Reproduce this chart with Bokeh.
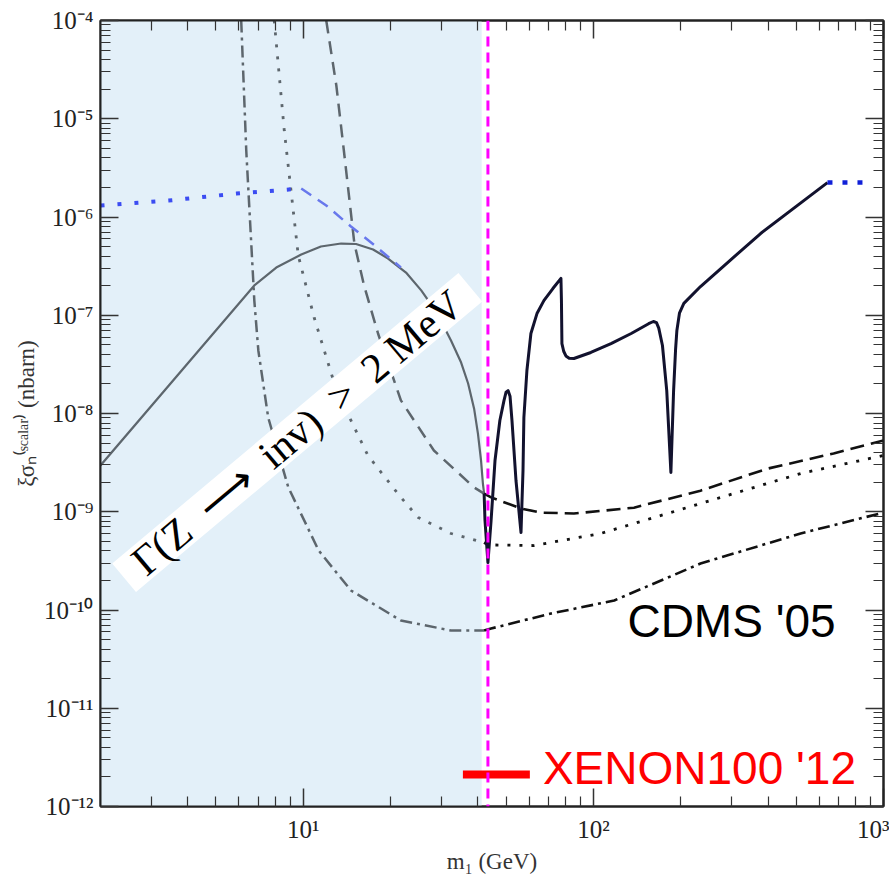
from bokeh.plotting import figure
from bokeh.models import LogAxis, FixedTicker, CustomJSTickFormatter, Span, Label
from bokeh.embed import file_html
from bokeh.resources import INLINE
from bokeh.core.properties import value

# ---------------- data ----------------
x_range_lim = (2, 1000)
y_range_lim = (1e-12, 1e-4)

x_major = [10, 100, 1000]
x_minor = [3, 4, 5, 6, 7, 8, 9, 20, 30, 40, 50, 60, 70, 80, 90,
           200, 300, 400, 500, 600, 700, 800, 900]
x_tick_labels = ["10¹", "10²", "10³"]

y_major = [1e-12, 1e-11, 1e-10, 1e-9, 1e-8, 1e-7, 1e-6, 1e-5, 1e-4]
y_minor = [m * d for d in [1e-12, 1e-11, 1e-10, 1e-9, 1e-8, 1e-7, 1e-6, 1e-5]
           for m in range(2, 10)]
y_tick_labels = ["10⁻¹²", "10⁻¹¹", "10⁻¹⁰", "10⁻⁹", "10⁻⁸", "10⁻⁷", "10⁻⁶", "10⁻⁵", "10⁻⁴"]

# Z-width excluded region and m_Z/2 line
shade_left, shade_right = 2, 41.2
mz_half = 43.3

# grey solid (model curve below m_Z/2)
solid_grey_x = [2.0, 6.78, 8.07, 9.84, 11.5, 13.5, 15.2, 17.4, 19.6, 22.6, 25.5,
                28.7, 32.3, 35.0, 37.0, 38.8, 40.0, 41.0, 41.6, 42.0]
solid_grey_y = [2.96e-9, 2.01e-7, 3.06e-7, 4.15e-7, 5.01e-7, 5.37e-7, 5.31e-7,
                4.67e-7, 3.78e-7, 2.72e-7, 1.79e-7, 1.09e-7, 5.53e-8, 3.30e-8,
                2.02e-8, 1.12e-8, 6.25e-9, 3.32e-9, 1.94e-9, 1.53e-9]

# black solid (model curve above m_Z/2)
solid_black_x = [42.0, 42.3, 43.3, 44.4, 45.8, 47.6, 49.2, 50.0, 50.8, 51.6, 52.4,
                 54.1, 56.3, 57.2, 57.6, 59.0, 60.9, 63.9, 67.5, 72.5, 77.3, 77.6,
                 77.9, 79.0, 80.4, 82.5, 85.7, 98.0, 115, 135, 155, 161, 165, 168,
                 173, 179, 185, 189, 192, 194, 198, 205, 234, 275, 377, 641]
solid_black_y = [1.53e-9, 8.15e-10, 3.04e-10, 8.15e-10, 3.32e-9, 8.49e-9, 1.36e-8,
                 1.65e-8, 1.71e-8, 1.5e-8, 8.49e-9, 2.08e-9, 6.15e-10, 2.63e-9,
                 9.1e-9, 2.74e-8, 6.52e-8, 1.04e-7, 1.41e-7, 1.87e-7, 2.37e-7,
                 1.41e-7, 5.15e-8, 4.3e-8, 3.85e-8, 3.65e-8, 3.63e-8, 4.18e-8,
                 5.15e-8, 6.52e-8, 8.2e-8, 8.64e-8, 8.4e-8, 7.4e-8, 4.92e-8,
                 1.71e-8, 2.51e-9, 1.71e-8, 4.5e-8, 7.0e-8, 1.05e-7, 1.32e-7,
                 1.96e-7, 2.99e-7, 6.79e-7, 2.24e-6]

# blue continuation curves
blue_dot_left_x = [2.0, 3.43, 5.88, 9.84]
blue_dot_left_y = [1.31e-6, 1.47e-6, 1.73e-6, 1.95e-6]
blue_dash_x = [9.84, 12.0, 14.6, 17.8, 21.7]
blue_dash_y = [1.95e-6, 1.31e-6, 8.0e-7, 5.01e-7, 3.06e-7]
blue_dot_right_x = [641, 881]
blue_dot_right_y = [2.24e-6, 2.24e-6]

# CDMS '05 bounds (three curves), grey part below m_Z/2 and black part above
dashed_grey_x = [12.0, 13.0, 13.8, 15.0, 16.2, 18.1, 21.7, 28.2, 38.8, 42.0]
dashed_grey_y = [1e-4, 2.18e-5, 4.75e-6, 5.37e-7, 2.01e-7, 6.52e-8, 1.36e-8,
                 4.2e-9, 1.77e-9, 1.53e-9]
dashed_black_x = [42.0, 44.4, 56.3, 65.9, 85.7, 138, 234, 399, 673, 1000]
dashed_black_y = [1.53e-9, 1.40e-9, 1.08e-9, 9.8e-10, 9.6e-10, 1.10e-9, 1.64e-9,
                  2.75e-9, 3.92e-9, 5.31e-9]

dotted_grey_x = [7.94, 8.60, 9.61, 10.9, 12.8, 14.6, 16.7, 21.7, 24.9, 32.3, 42.0]
dotted_grey_y = [1e-4, 7.59e-6, 4.06e-7, 9.48e-8, 2.02e-8, 8.49e-9, 3.74e-9,
                 1.40e-9, 8.74e-10, 6.01e-10, 4.86e-10]
dotted_black_x = [42.0, 43.3, 62.4, 106, 180, 304, 518, 1000]
dotted_black_y = [4.86e-10, 4.6e-10, 4.53e-10, 6.01e-10, 9.6e-10, 1.53e-9,
                  2.45e-9, 3.74e-9]

dashdot_grey_x = [6.11, 6.36, 6.78, 7.00, 7.57, 8.88, 11.3, 14.6, 21.7, 32.3, 42.0]
dashdot_grey_y = [1e-4, 4.75e-6, 1.41e-7, 4.38e-8, 9.1e-9, 1.77e-9, 4.03e-10,
                  1.58e-10, 7.82e-11, 6.18e-11, 6.18e-11]
dashdot_black_x = [42.0, 44.4, 71.4, 118, 234, 518, 1000]
dashdot_black_y = [6.18e-11, 6.48e-11, 9.2e-11, 1.25e-10, 2.97e-10, 6.01e-10, 9.8e-10]

# XENON100 '12 bound marker
xenon_x = [35.5, 60.4]
xenon_y = [2.12e-12, 2.12e-12]

# ---------------- figure ----------------
p = figure(width=889, height=878, x_axis_type="log", y_axis_type="log",
           x_range=x_range_lim, y_range=y_range_lim,
           output_backend="svg", toolbar_location=None,
           min_border_left=100, min_border_right=6, min_border_top=20,
           min_border_bottom=72)
p.grid.visible = False
p.background_fill_color = "white"
p.border_fill_color = "white"
p.outline_line_color = "#222222"
p.outline_line_width = 2

xt = FixedTicker(ticks=x_major, minor_ticks=x_minor)
yt = FixedTicker(ticks=y_major, minor_ticks=y_minor)

fmt_code = """
const lt = Math.log10(tick);
let best = 0, bd = 1e9;
for (let i = 0; i < vals.length; i++) {
  const d = Math.abs(Math.log10(vals[i]) - lt);
  if (d < bd) { bd = d; best = i; }
}
return labs[best];
"""
xfmt = CustomJSTickFormatter(args=dict(vals=x_major, labs=x_tick_labels), code=fmt_code)
yfmt = CustomJSTickFormatter(args=dict(vals=y_major, labs=y_tick_labels), code=fmt_code)
empty_fmt = CustomJSTickFormatter(code="return '';")


def style_axis(ax):
    ax.axis_line_color = "#222222"
    ax.axis_line_width = 2
    ax.major_tick_line_color = "#333333"
    ax.minor_tick_line_color = "#333333"
    ax.major_tick_line_width = 1.5
    ax.minor_tick_line_width = 1.2
    ax.major_tick_in = 18
    ax.major_tick_out = 0
    ax.minor_tick_in = 10
    ax.minor_tick_out = 0
    ax.major_label_text_font = "Liberation Serif"
    ax.major_label_text_font_size = "25px"
    ax.major_label_text_color = "#222222"
    ax.axis_label_text_font = "Liberation Serif"
    ax.axis_label_text_font_style = "normal"
    ax.axis_label_text_font_size = "23px"
    ax.axis_label_text_color = "#333333"


xa = p.xaxis[0]
xa.ticker = xt
xa.formatter = xfmt
style_axis(xa)
xa.major_label_standoff = 9
xa.axis_label = "m₁ (GeV)"
xa.axis_label_standoff = 3

ya = p.yaxis[0]
ya.ticker = yt
ya.formatter = yfmt
style_axis(ya)
ya.major_label_standoff = 7
ya.axis_label = "ξσₙ⁽ˢᶜᵃˡᵃʳ⁾ (nbarn)"
ya.axis_label_standoff = 2

top_ax = LogAxis(ticker=xt, formatter=empty_fmt)
style_axis(top_ax)
top_ax.major_label_standoff = 0
top_ax.major_label_text_font_size = "1px"
p.add_layout(top_ax, "above")

right_ax = LogAxis(ticker=yt, formatter=empty_fmt)
style_axis(right_ax)
right_ax.major_label_standoff = 0
right_ax.major_label_text_font_size = "1px"
p.add_layout(right_ax, "right")

# shaded region
p.quad(left=[shade_left], right=[shade_right], bottom=[y_range_lim[0]], top=[y_range_lim[1]],
       fill_color="#e3f0f9", line_color=None)

grey = "#5d666d"
black = "#111111"

p.line(solid_grey_x, solid_grey_y, line_color=grey, line_width=2.2)
p.line(dashed_grey_x, dashed_grey_y, line_color=grey, line_width=2.5, line_dash="13 8")
p.line(dotted_grey_x, dotted_grey_y, line_color=grey, line_width=2.8, line_dash="3 9")
p.line(dashdot_grey_x, dashdot_grey_y, line_color=grey, line_width=2.5, line_dash="12 5 3 5")

p.line(blue_dot_left_x, blue_dot_left_y, line_color="#3b4cf2", line_width=4, line_dash="4 13")
p.line(blue_dash_x, blue_dash_y, line_color="#6878ec", line_width=2.5, line_dash="12 8")

p.line(dashed_black_x, dashed_black_y, line_color=black, line_width=2.6, line_dash="14 7")
p.line(dotted_black_x, dotted_black_y, line_color=black, line_width=2.8, line_dash="3 9")
p.line(dashdot_black_x, dashdot_black_y, line_color=black, line_width=2.6, line_dash="12 5 3 5")

p.line(solid_black_x, solid_black_y, line_color="#12122e", line_width=3, line_join="round")
p.line(blue_dot_right_x, blue_dot_right_y, line_color="#1020d8", line_width=4.5, line_dash="5 10")

# rotated white box with label
box_x, box_y = 9.53, 6.41e-9
p.rect(x=[box_x], y=[box_y], width=452, height=37, width_units="screen",
       height_units="screen", angle=40, angle_units="deg",
       fill_color="white", line_color=None)
p.text(x=[box_x], y=[box_y], text=["Γ(Z\u2002⟶\u2002inv)\u2002>\u20022 MeV"],
       angle=40, angle_units="deg",
       text_align="center", text_baseline="middle", text_font=value("Liberation Serif"),
       text_font_size="42px", text_color="black")

# m_Z/2 line
p.add_layout(Span(location=mz_half, dimension="height", line_color="#ff00ff",
                  line_width=3, line_dash="10 6"))

# XENON100 marker
p.line(xenon_x, xenon_y, line_color="#ff0000", line_width=8)

p.add_layout(Label(x=131, y=7.8e-11, text="CDMS '05", text_font="Liberation Sans",
                   text_font_size="46px", text_color="black",
                   text_baseline="alphabetic", text_align="left"))
p.add_layout(Label(x=67, y=2.44e-12, text="XENON100 '12", text_font="Liberation Sans",
                   text_font_size="46px", text_color="#ff0000",
                   text_baseline="alphabetic", text_align="left"))

open("out.html", "w").write(file_html(p, INLINE))
